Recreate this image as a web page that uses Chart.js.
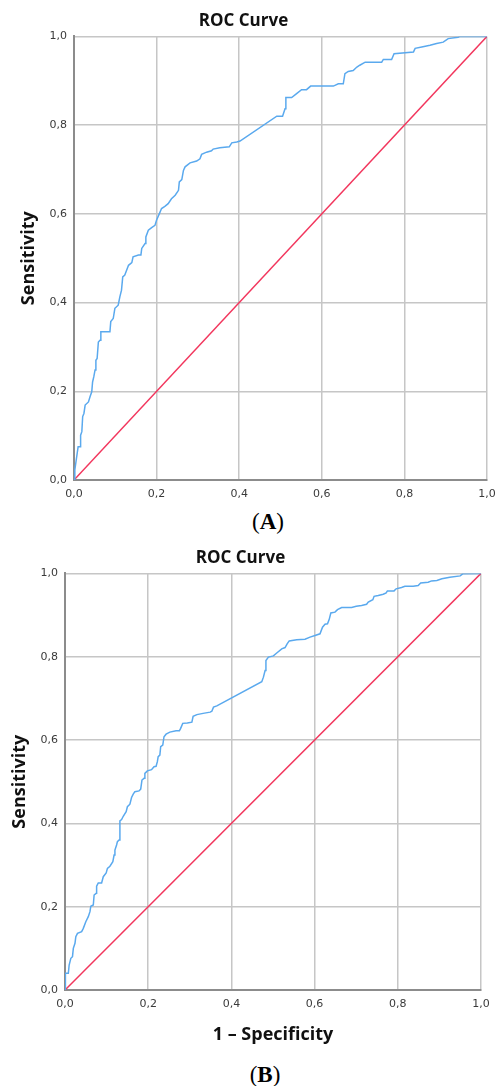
<!DOCTYPE html>
<html>
<head>
<meta charset="utf-8">
<script src="https://cdn.jsdelivr.net/npm/chart.js@4/dist/chart.umd.min.js"></script>
<style>
  body { margin: 0; background: #fff; width: 495px; height: 1086px; position: relative; overflow: hidden; }
  .box { position: absolute; left: 0; width: 495px; }
  .cap { position: absolute; width: 100px; text-align: center; font-family: "Liberation Serif", serif; font-size: 23px; line-height: 28px; color: #000; }
</style>
</head>
<body>
<div class="box" style="top:0;height:505px"><canvas id="chartA"></canvas></div>
<div class="cap" style="left:218px;top:508px">(<b>A</b>)</div>
<div class="box" style="top:537px;height:513px"><canvas id="chartB"></canvas></div>
<div class="cap" style="left:215px;top:1061px">(<b>B</b>)</div>
<script>
// Panel A – ROC curve (1 - specificity, sensitivity)
const fprA = [0, .002, .010, .016, .016, .019, .021, .024, .027, .035, .039, .043, .045, .048, .051, .053, .056, .059, .063, .065,
  .087, .089, .095, .099, .107, .111, .115, .118, .123, .132, .140, .143, .156, .162, .164, .172, .174, .180, .188, .196,
  .200, .207, .212, .220, .228, .236, .245, .253, .255, .261, .265, .269, .281, .297, .305, .309, .321, .333, .337, .353,
  .376, .382, .394, .402, .491, .505, .511, .513, .527, .539, .551, .563, .573, .628, .640, .652, .656, .664, .676, .685,
  .692, .705, .745, .749, .769, .775, .822, .826, .842, .862, .878, .894, .906, .930, .935, 1];
const tprA = [0, .023, .075, .075, .101, .109, .143, .150, .169, .176, .188, .199, .221, .233, .248, .270, .274, .311, .315, .334,
  .334, .357, .364, .387, .394, .413, .428, .458, .462, .484, .490, .503, .507, .507, .522, .533, .548, .563, .569, .574,
  .586, .601, .612, .617, .623, .634, .642, .653, .672, .677, .698, .706, .715, .719, .724, .734, .739, .742, .746, .749,
  .751, .760, .762, .764, .820, .820, .837, .862, .862, .871, .880, .880, .888, .888, .893, .893, .916, .921, .923, .931,
  .935, .942, .942, .948, .948, .961, .965, .973, .976, .980, .984, .987, .995, .998, 1, 1];

// Panel B
const fprB = [0, 0, .002, .008, .010, .014, .018, .020, .024, .026, .030, .040, .044, .050, .056, .060, .062, .068, .070, .075,
  .076, .080, .088, .092, .099, .102, .108, .115, .118, .120, .124, .126, .130, .132, .136, .140, .147, .150, .156, .160,
  .164, .168, .178, .182, .185, .190, .192, .198, .208, .214, .219, .222, .224, .228, .230, .235, .238, .243, .252, .267,
  .275, .278, .283, .294, .305, .308, .317, .332, .349, .353, .357, .365, .473, .477, .481, .483, .489, .501, .509, .521,
  .529, .534, .539, .557, .577, .589, .601, .613, .619, .625, .631, .635, .639, .649, .655, .665, .689, .700, .713, .725,
  .729, .740, .743, .753, .765, .772, .775, .791, .796, .809, .817, .837, .849, .855, .873, .881, .894, .906, .925, .950,
  .956, 1];
const tprB = [0, .024, .040, .040, .060, .076, .080, .100, .112, .128, .136, .140, .148, .164, .176, .188, .201, .204, .228, .232,
  .249, .257, .257, .272, .281, .292, .297, .308, .324, .336, .348, .356, .360, .406, .409, .417, .428, .440, .446, .462,
  .470, .476, .478, .482, .504, .508, .520, .526, .529, .536, .537, .548, .560, .564, .584, .588, .608, .614, .619, .622,
  .622, .628, .640, .641, .643, .657, .661, .664, .667, .669, .679, .682, .740, .751, .767, .791, .799, .802, .809, .819,
  .822, .831, .838, .841, .842, .847, .851, .855, .871, .878, .879, .889, .905, .907, .913, .918, .918, .921, .923, .926,
  .931, .937, .945, .947, .950, .953, .958, .958, .963, .966, .969, .969, .971, .977, .979, .982, .983, .987, .991, .994,
  .999, 1];

// reference diagonal
const refX = [0, 1];
const refY = [0, 1];
const tickVals = [0, 0.2, 0.4, 0.6, 0.8, 1.0];

const pts = (xs, ys) => xs.map((x, i) => ({ x: x, y: ys[i] }));
const fmt = v => v.toFixed(1).replace('.', ',');
const tickFont = { family: '"DejaVu Sans", sans-serif', size: 11 };
const titleFont = { family: '"Open Sans", sans-serif', size: 17, weight: 'bold' };
const axisFont = { family: '"Open Sans", sans-serif', size: 18, weight: 'bold' };

function makeChart(id, fpr, tpr, cfg) {
  new Chart(document.getElementById(id), {
    type: 'line',
    data: {
      datasets: [{
        data: pts(fpr, tpr),
        borderColor: '#5aa9ee',
        borderWidth: 1.5,
        pointRadius: 0,
        tension: 0
      }, {
        data: pts(refX, refY),
        borderColor: '#f2365d',
        borderWidth: 1.5,
        pointRadius: 0,
        tension: 0
      }]
    },
    options: {
      responsive: true,
      maintainAspectRatio: false,
      animation: false,
      layout: { padding: { left: 0, right: cfg.padRight, top: 0, bottom: 0 } },
      plugins: {
        legend: { display: false },
        tooltip: { enabled: false },
        title: {
          display: true,
          text: 'ROC Curve',
          color: '#111',
          font: titleFont,
          padding: { top: 11, bottom: 5 }
        }
      },
      scales: {
        x: {
          type: 'linear',
          min: 0,
          max: 1,
          afterBuildTicks: s => { s.ticks = tickVals.map(v => ({ value: v })); },
          // fixed axis height, and let the last label run past the plot edge
          afterFit: s => { s.height = cfg.xHeight; s.paddingRight = 0; s.paddingLeft = 0; },
          ticks: { callback: fmt, font: tickFont, color: '#3a3a3a', padding: 8, maxRotation: 0 },
          grid: { color: '#c6c6c6', lineWidth: 1.5, drawTicks: false },
          border: { color: '#8c8c8c', width: 2 },
          title: {
            display: cfg.xTitle !== '',
            text: cfg.xTitle,
            color: '#111',
            font: axisFont,
            padding: { top: 4, bottom: 4 }
          }
        },
        y: {
          type: 'linear',
          min: 0,
          max: 1,
          afterBuildTicks: s => { s.ticks = tickVals.map(v => ({ value: v })); },
          afterFit: s => { s.width = cfg.yWidth; },
          ticks: { callback: fmt, font: tickFont, color: '#3a3a3a', padding: 7 },
          grid: { color: '#c6c6c6', lineWidth: 1.5, drawTicks: false },
          border: { color: '#8c8c8c', width: 2 },
          title: {
            display: true,
            text: 'Sensitivity',
            color: '#111',
            font: axisFont,
            padding: { top: cfg.yTitlePad, bottom: 4 }
          }
        }
      }
    }
  });
}

makeChart('chartA', fprA, tprA, { yWidth: 74, xHeight: 25, padRight: 8, xTitle: '', yTitlePad: 18 });
makeChart('chartB', fprB, tprB, { yWidth: 65, xHeight: 60, padRight: 14, xTitle: '1 \u2013 Specificity', yTitlePad: 9 });
</script>
</body>
</html>
